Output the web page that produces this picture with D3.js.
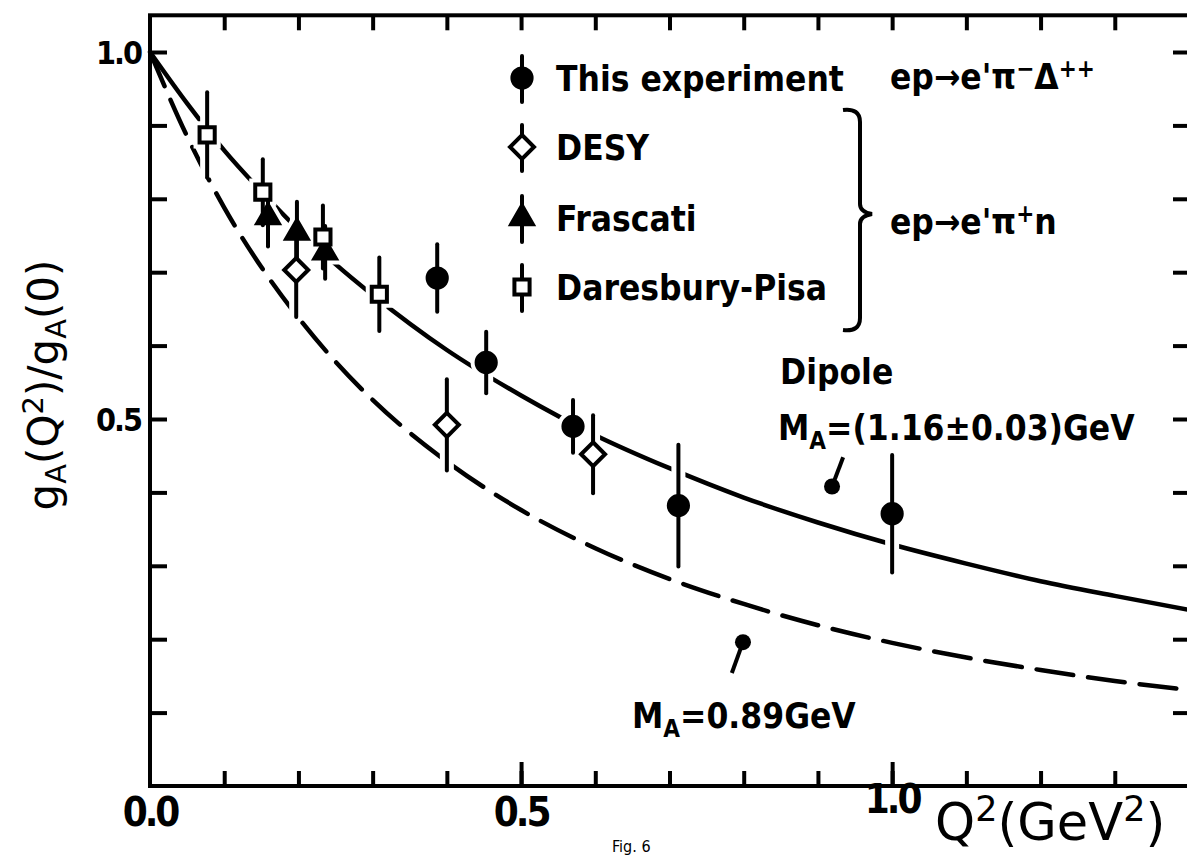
<!doctype html>
<html>
<head>
<meta charset="utf-8">
<script src="https://cdnjs.cloudflare.com/ajax/libs/d3/7.8.5/d3.min.js"></script>
<style>
  body { margin: 0; background: #fff; }
  svg { display: block; background: #fff; }
  text { font-family: "DejaVu Sans Condensed", "DejaVu Sans", sans-serif; font-weight: bold; fill: #000; }
</style>
</head>
<body>
<svg width="1187" height="855"></svg>
<script>
// dipole curves, values
var curveQ2   = [0, 0.05, 0.1, 0.15, 0.2, 0.25, 0.3, 0.4, 0.5, 0.6, 0.7, 0.8, 0.9, 1.0, 1.1, 1.2, 1.3, 1.4];
var dipole116 = [1.0, 0.930, 0.866, 0.810, 0.758, 0.711, 0.669, 0.594, 0.532, 0.478, 0.433, 0.393, 0.359, 0.329, 0.303, 0.279, 0.259, 0.240];
var dipole089 = [1.0, 0.885, 0.788, 0.707, 0.638, 0.578, 0.526, 0.442, 0.376, 0.324, 0.282, 0.248, 0.219, 0.195, 0.175, 0.158, 0.143, 0.131];

// This experiment (filled circles)
var expQ2  = [0.387, 0.453, 0.570, 0.712, 1.0];
var expVal = [0.692, 0.577, 0.490, 0.382, 0.371];
var expErr = [0.046, 0.042, 0.036, 0.083, 0.080];

// DESY (open diamonds)
var desyQ2  = [0.197, 0.400, 0.597];
var desyVal = [0.703, 0.492, 0.452];
var desyErr = [0.064, 0.062, 0.053];

// Frascati (filled triangles)
var frasQ2  = [0.159, 0.198, 0.236];
var frasVal = [0.775, 0.754, 0.727];
var frasErr = [0.040, 0.042, 0.036];

// Daresbury-Pisa (open squares)
var darQ2  = [0.077, 0.152, 0.233, 0.309];
var darVal = [0.887, 0.809, 0.748, 0.670];
var darErr = [0.058, 0.045, 0.043, 0.050];

var xMinorTicks = d3.range(1, 14).map(d => d / 10);
var xMajorTicks = [0.5, 1.0];
var xTickLabels = ["0.0", "0.5", "1.0"];
var yTicks = d3.range(1, 11).map(d => d / 10);
var yTickLabels = ["1.0", "0.5"];

var svg = d3.select("svg");

var x = d3.scaleLinear().domain([0, 1.4]).range([150, 1189]);
var y = d3.scaleLinear().domain([0, 1.0]).range([786, 52]);

var yTop = y(1.05), yBot = y(0);

// ticks (inward)
svg.append("g").attr("transform", "translate(0," + yBot + ")")
  .call(d3.axisBottom(x).tickValues(xMinorTicks).tickSize(-15).tickSizeOuter(0).tickFormat(""));
svg.append("g").attr("transform", "translate(0," + yBot + ")")
  .call(d3.axisBottom(x).tickValues(xMajorTicks).tickSize(-24).tickSizeOuter(0).tickFormat(""));
svg.append("g").attr("transform", "translate(0," + yTop + ")")
  .call(d3.axisTop(x).tickValues(xMinorTicks).tickSize(-15).tickSizeOuter(0).tickFormat(""));
svg.append("g").attr("transform", "translate(" + x(0) + ",0)")
  .call(d3.axisLeft(y).tickValues(yTicks).tickSize(-17).tickSizeOuter(0).tickFormat(""));
svg.append("g").attr("transform", "translate(" + x(1.4) + ",0)")
  .call(d3.axisRight(y).tickValues(yTicks).tickSize(-16).tickSizeOuter(0).tickFormat(""));
svg.selectAll(".domain").remove();
svg.selectAll(".tick line").attr("stroke", "#000").attr("stroke-width", 4);

// frame
svg.append("rect")
  .attr("x", x(0)).attr("y", yTop)
  .attr("width", x(1.4) - x(0)).attr("height", yBot - yTop)
  .attr("fill", "none").attr("stroke", "#000").attr("stroke-width", 4);

// tick labels
svg.append("g").selectAll("text").data([0, 0.5, 1.0]).enter().append("text")
  .attr("x", d => x(d)).attr("y", (d, i) => i == 2 ? 813 : 826)
  .attr("text-anchor", "middle").attr("font-size", 40).attr("letter-spacing", -3)
  .text((d, i) => xTickLabels[i]);
svg.append("g").selectAll("text").data([1.0, 0.5]).enter().append("text")
  .attr("x", 141).attr("y", d => y(d) + 12)
  .attr("text-anchor", "end").attr("font-size", 32).attr("letter-spacing", -2)
  .text((d, i) => yTickLabels[i]);

// curves
var line = d3.line().x(d => x(d[0])).y(d => y(d[1])).curve(d3.curveMonotoneX);
svg.append("path").datum(curveQ2.map((q, i) => [q, dipole116[i]]))
  .attr("d", line).attr("fill", "none").attr("stroke", "#000").attr("stroke-width", 4.5);
svg.append("path").datum(curveQ2.map((q, i) => [q, dipole089[i]]))
  .attr("d", line).attr("fill", "none").attr("stroke", "#000").attr("stroke-width", 4.5)
  .attr("stroke-dasharray", "37,15").attr("stroke-linecap", "round");

// data points
var series = [
  { q: expQ2, v: expVal, e: expErr, type: "circle" },
  { q: desyQ2, v: desyVal, e: desyErr, type: "diamond" },
  { q: frasQ2, v: frasVal, e: frasErr, type: "triangle" },
  { q: darQ2, v: darVal, e: darErr, type: "square" }
];

function markerPath(type) {
  if (type == "circle") return d3.symbol(d3.symbolCircle, 290)();
  if (type == "square") return d3.symbol(d3.symbolSquare, 230)();
  if (type == "triangle") return d3.symbol(d3.symbolTriangle, 200)();
  return "M0,-12L12,0L0,12L-12,0Z";
}
function isFilled(type) { return type == "circle" || type == "triangle"; }

var pts = [];
series.forEach(s => s.q.forEach((q, i) => pts.push({ q: q, v: s.v[i], e: s.e[i], type: s.type })));

// white halos cut the curves around the marks
var halo = svg.append("g");
halo.selectAll("line").data(pts).enter().append("line")
  .attr("x1", d => x(d.q)).attr("x2", d => x(d.q))
  .attr("y1", d => y(d.v + d.e)).attr("y2", d => y(d.v - d.e))
  .attr("stroke", "#fff").attr("stroke-width", 14);
halo.selectAll("path").data(pts).enter().append("path")
  .attr("d", d => markerPath(d.type))
  .attr("transform", d => "translate(" + x(d.q) + "," + y(d.v) + ")")
  .attr("fill", "#fff").attr("stroke", "#fff").attr("stroke-width", 12);

var marks = svg.append("g");
marks.selectAll("line").data(pts).enter().append("line")
  .attr("x1", d => x(d.q)).attr("x2", d => x(d.q))
  .attr("y1", d => y(d.v + d.e)).attr("y2", d => y(d.v - d.e))
  .attr("stroke", "#000").attr("stroke-width", 4).attr("stroke-linecap", "round");
marks.selectAll("path").data(pts).enter().append("path")
  .attr("d", d => markerPath(d.type))
  .attr("transform", d => "translate(" + x(d.q) + "," + y(d.v) + ")")
  .attr("fill", d => isFilled(d.type) ? "#000" : "#fff")
  .attr("stroke", "#000").attr("stroke-width", 4);

// legend
var legendNames = ["This experiment", "DESY", "Frascati", "Daresbury-Pisa"];
var legendTypes = ["circle", "diamond", "triangle", "square"];
var legendY = [78, 147, 218, 287];
var leg = svg.append("g");
legendNames.forEach((name, i) => {
  leg.append("line").attr("x1", 522).attr("x2", 522)
    .attr("y1", legendY[i] - 22).attr("y2", legendY[i] + 24)
    .attr("stroke", "#000").attr("stroke-width", 4).attr("stroke-linecap", "round");
  leg.append("path").attr("d", markerPath(legendTypes[i]))
    .attr("transform", "translate(522," + legendY[i] + ")")
    .attr("fill", isFilled(legendTypes[i]) ? "#000" : "#fff")
    .attr("stroke", "#000").attr("stroke-width", 4);
  leg.append("text").attr("x", 556).attr("y", legendY[i] + 13)
    .attr("font-size", 35).text(name);
});

// brace
svg.append("path")
  .attr("d", "M843,110 Q860,108 860,122 L860,204 Q860,212 872,214 Q860,216 860,224 L860,318 Q860,332 843,330")
  .attr("fill", "none").attr("stroke", "#000").attr("stroke-width", 4);

// reactions
var r1 = svg.append("text").attr("x", 890).attr("y", 89).attr("font-size", 35);
r1.append("tspan").text("ep→e'π");
r1.append("tspan").attr("dy", -12).attr("font-size", 24).text("−");
r1.append("tspan").attr("dy", 12).text("Δ");
r1.append("tspan").attr("dy", -12).attr("font-size", 24).text("++");
var r2 = svg.append("text").attr("x", 890).attr("y", 234).attr("font-size", 35);
r2.append("tspan").text("ep→e'π");
r2.append("tspan").attr("dy", -12).attr("font-size", 24).text("+");
r2.append("tspan").attr("dy", 12).text("n");

// dipole annotations
svg.append("text").attr("x", 780).attr("y", 384).attr("font-size", 35).text("Dipole");
var m1 = svg.append("text").attr("x", 778).attr("y", 440).attr("font-size", 35);
m1.append("tspan").text("M");
m1.append("tspan").attr("dy", 9).attr("font-size", 24).text("A");
m1.append("tspan").attr("dy", -9).text("=(1.16±0.03)GeV");
var m2 = svg.append("text").attr("x", 632).attr("y", 728).attr("font-size", 35);
m2.append("tspan").text("M");
m2.append("tspan").attr("dy", 9).attr("font-size", 24).text("A");
m2.append("tspan").attr("dy", -9).text("=0.89GeV");

// pointer arrows
var arrows = [
  { from: [0.934, 0.448], to: [0.919, 0.408] },
  { from: [0.784, 0.154], to: [0.799, 0.196] }
];
arrows.forEach(a => {
  svg.append("line").attr("x1", x(a.from[0])).attr("y1", y(a.from[1]))
    .attr("x2", x(a.to[0])).attr("y2", y(a.to[1]))
    .attr("stroke", "#000").attr("stroke-width", 4);
  svg.append("circle").attr("cx", x(a.to[0])).attr("cy", y(a.to[1])).attr("r", 8);
});

// axis titles
var yl = svg.append("text").attr("transform", "translate(58,385) rotate(-90)")
  .attr("text-anchor", "middle").attr("font-size", 42)
  .style("font-family", "'DejaVu Sans', sans-serif").style("font-weight", "normal");
yl.append("tspan").text("g");
yl.append("tspan").attr("dy", 8).attr("font-size", 29).text("A");
yl.append("tspan").attr("dy", -8).text("(Q");
yl.append("tspan").attr("dy", -15).attr("font-size", 29).text("2");
yl.append("tspan").attr("dy", 15).text(")/g");
yl.append("tspan").attr("dy", 8).attr("font-size", 29).text("A");
yl.append("tspan").attr("dy", -8).text("(0)");

var xl = svg.append("text").attr("x", 935).attr("y", 840).attr("font-size", 51)
  .style("font-family", "'DejaVu Sans', sans-serif").style("font-weight", "normal");
xl.append("tspan").text("Q");
xl.append("tspan").attr("dy", -19).attr("font-size", 35).text("2");
xl.append("tspan").attr("dy", 19).text("(GeV");
xl.append("tspan").attr("dy", -19).attr("font-size", 35).text("2");
xl.append("tspan").attr("dy", 19).text(")");

// caption at the bottom edge
svg.append("text").attr("x", 612).attr("y", 852).attr("font-size", 16)
  .style("font-weight", "normal").text("Fig. 6");
</script>
</body>
</html>
